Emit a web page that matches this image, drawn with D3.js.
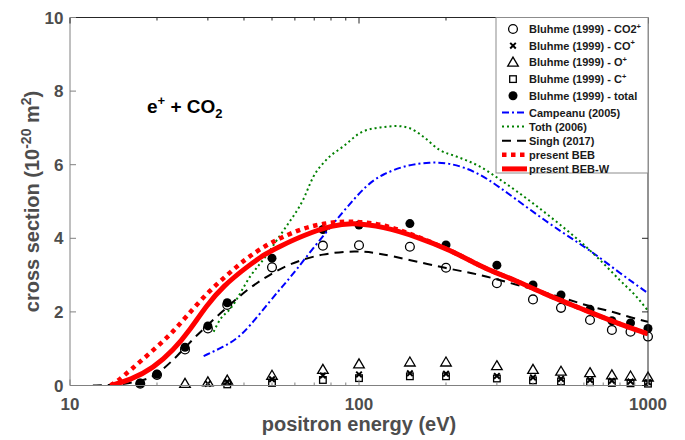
<!DOCTYPE html>
<html>
<head>
<meta charset="utf-8">
<script src="https://cdn.jsdelivr.net/npm/d3@7"></script>
<style>
  body { margin: 0; background: #fff; }
  svg { display: block; font-family: 'Liberation Sans', Arial, Helvetica, sans-serif; }
</style>
</head>
<body>
<div id="chart"></div>
<script>
// Bluhme (1999) measurements
const bluhmeEnergy = [17.5, 20, 25, 30, 35, 50, 75, 100, 150, 200, 300, 400, 500, 630, 750, 870, 1000];
const bluhmeCO2 = [0.05, 0.29, 0.98, 1.55, 2.19, 3.21, 3.80, 3.81, 3.77, 3.20, 2.78, 2.34, 2.11, 1.78, 1.51, 1.46, 1.33];
const bluhmeCO = [null, null, null, 0.05, 0.10, 0.17, 0.27, 0.30, 0.33, 0.32, 0.26, 0.22, 0.18, 0.15, 0.13, 0.11, 0.09];
const bluhmeO = [null, null, 0.05, 0.09, 0.14, 0.27, 0.43, 0.58, 0.63, 0.63, 0.53, 0.43, 0.38, 0.34, 0.28, 0.25, 0.22];
const bluhmeC = [null, null, null, null, 0.03, 0.07, 0.15, 0.20, 0.25, 0.25, 0.19, 0.14, 0.11, 0.09, 0.07, 0.06, 0.05];
const bluhmeTotal = [0.06, 0.31, 1.04, 1.62, 2.25, 3.46, 4.24, 4.36, 4.40, 3.82, 3.27, 2.73, 2.46, 2.07, 1.76, 1.70, 1.55];

// theory curves
const campeanuE = [29, 34, 39, 45.5, 53, 57, 71.5, 88, 106, 121, 146, 176, 207, 255, 307, 390, 508, 630, 800, 1000];
const campeanuV = [0.80, 1.05, 1.33, 1.96, 2.60, 2.87, 3.86, 4.72, 5.45, 5.75, 5.99, 6.07, 6.05, 5.81, 5.39, 4.78, 4.14, 3.68, 3.05, 2.51];

const tothE = [31.4, 33, 36, 42, 48, 53, 56, 64, 69.5, 77, 88, 103, 121, 135, 150, 167, 190, 218, 262, 307, 400, 500, 583, 682, 797, 913, 1000];
const tothV = [1.46, 1.78, 2.10, 2.96, 3.55, 4.05, 4.32, 5.04, 5.67, 6.13, 6.49, 6.90, 7.02, 7.05, 6.99, 6.76, 6.40, 6.22, 5.95, 5.60, 4.95, 4.35, 3.91, 3.41, 2.87, 2.41, 2.03];

const singhE = [12, 14, 16, 18.7, 20.5, 23.4, 27.1, 33.1, 40.8, 47.9, 57.6, 75, 98, 115, 150, 201, 262, 345, 484, 630, 737, 850, 1000];
const singhV = [0, 0.01, 0.06, 0.17, 0.37, 0.78, 1.33, 1.96, 2.60, 2.96, 3.32, 3.59, 3.66, 3.61, 3.41, 3.18, 3.02, 2.75, 2.44, 2.14, 2.03, 1.87, 1.73];

const bebE = [13.8, 14.5, 16.2, 18.9, 22.2, 25.3, 29.7, 34.9, 40.8, 47.9, 53.2, 64, 77, 93, 115, 138, 160, 207, 262, 300, 345, 446, 583, 759, 1000];
const bebV = [0, 0.10, 0.42, 0.88, 1.37, 1.88, 2.50, 3.00, 3.46, 3.82, 4.00, 4.28, 4.42, 4.47, 4.41, 4.23, 4.04, 3.68, 3.25, 3.05, 2.87, 2.46, 2.10, 1.73, 1.40];

const bebwE = [13.8, 16.2, 19.4, 22.8, 26, 29.7, 33.9, 40.8, 47.9, 53.2, 64, 81.4, 95.3, 121, 158.8, 207, 262, 300, 345, 446, 583, 759, 1000];
const bebwV = [0, 0.15, 0.47, 0.96, 1.51, 2.18, 2.70, 3.22, 3.60, 3.78, 4.08, 4.36, 4.42, 4.32, 4.04, 3.68, 3.25, 3.05, 2.87, 2.46, 2.10, 1.73, 1.40];

const xTicks = [10, 100, 1000];
const yTicks = [0, 2, 4, 6, 8, 10];

const width = 685;
const height = 440;
const plot = { l: 70, r: 648, t: 17.5, b: 385.5 };

const svg = d3
  .select('#chart')
  .append('svg')
  .attr('width', width)
  .attr('height', height);

const x = d3.scaleLog().domain([10, 1000]).range([plot.l, plot.r]);
const y = d3.scaleLinear().domain([0, 10]).range([plot.b, plot.t]);

svg.append('clipPath').attr('id', 'clip')
  .append('rect')
  .attr('x', plot.l).attr('y', plot.t)
  .attr('width', plot.r - plot.l).attr('height', plot.b - plot.t);

// marker shapes
function drawMarker(g, kind, cx, cy) {
  if (kind === 'openCircle') {
    g.append('circle').attr('cx', cx).attr('cy', cy).attr('r', 4.4)
      .attr('fill', 'none').attr('stroke', '#000').attr('stroke-width', 1.3);
  } else if (kind === 'filledCircle') {
    g.append('circle').attr('cx', cx).attr('cy', cy).attr('r', 4.5).attr('fill', '#000');
  } else if (kind === 'triangle') {
    g.append('path')
      .attr('d', `M${cx},${cy - 5.3}L${cx + 5.3},${cy + 3.7}L${cx - 5.3},${cy + 3.7}Z`)
      .attr('fill', 'none').attr('stroke', '#000').attr('stroke-width', 1.3);
  } else if (kind === 'square') {
    g.append('rect').attr('x', cx - 3.3).attr('y', cy - 3.3).attr('width', 6.6).attr('height', 6.6)
      .attr('fill', 'none').attr('stroke', '#000').attr('stroke-width', 1.3);
  } else if (kind === 'cross') {
    g.append('path')
      .attr('d', `M${cx - 2.8},${cy - 2.8}L${cx + 2.8},${cy + 2.8}M${cx - 2.8},${cy + 2.8}L${cx + 2.8},${cy - 2.8}`)
      .attr('stroke', '#000').attr('stroke-width', 2);
  }
}

const pointSeries = [
  { values: bluhmeCO2, kind: 'openCircle' },
  { values: bluhmeCO, kind: 'cross' },
  { values: bluhmeO, kind: 'triangle' },
  { values: bluhmeC, kind: 'square' },
  { values: bluhmeTotal, kind: 'filledCircle' },
];

const markers = svg.append('g');
pointSeries.forEach((s) => {
  const g = markers.append('g');
  s.values.forEach((v, i) => {
    if (v === null) return;
    drawMarker(g, s.kind, x(bluhmeEnergy[i]), y(v));
  });
});

const lineSeries = [
  { e: campeanuE, v: campeanuV, color: '#0000ff', width: 2, dash: '7,3,2,3', curve: d3.curveBasis },
  { e: tothE, v: tothV, color: '#008000', width: 2, dash: '2,3', curve: d3.curveMonotoneX },
  { e: singhE, v: singhV, color: '#000', width: 2, dash: '9,6', curve: d3.curveBasis },
  { e: bebE, v: bebV, color: '#ff0000', width: 4.5, dash: '4.5,4.5', curve: d3.curveBasis },
  { e: bebwE, v: bebwV, color: '#ff0000', width: 5, dash: null, curve: d3.curveBasis },
];

const lines = svg.append('g').attr('clip-path', 'url(#clip)');
lineSeries.forEach((s) => {
  const line = d3.line()
    .x((d) => x(d[0]))
    .y((d) => y(d[1]))
    .curve(s.curve);
  lines.append('path')
    .attr('d', line(s.e.map((e, i) => [e, s.v[i]])))
    .attr('fill', 'none')
    .attr('stroke', s.color)
    .attr('stroke-width', s.width)
    .attr('stroke-dasharray', s.dash);
});

// axes box and ticks
const axisG = svg.append('g');
const gray = '#808080';
const dark = '#262626';
axisG.append('line').attr('x1', plot.l).attr('x2', plot.l).attr('y1', plot.t).attr('y2', plot.b).attr('stroke', gray);
axisG.append('line').attr('x1', plot.l).attr('x2', plot.r).attr('y1', plot.b).attr('y2', plot.b).attr('stroke', gray);
axisG.append('line').attr('x1', plot.l).attr('x2', plot.r).attr('y1', plot.t).attr('y2', plot.t).attr('stroke', dark);
axisG.append('line').attr('x1', plot.r).attr('x2', plot.r).attr('y1', plot.t).attr('y2', plot.b).attr('stroke', dark);

const minorX = [];
[10, 100].forEach((d) => { for (let k = 2; k <= 9; k += 1) minorX.push(d * k); });

minorX.forEach((t) => {
  axisG.append('line').attr('x1', x(t)).attr('x2', x(t)).attr('y1', plot.b).attr('y2', plot.b - 3).attr('stroke', gray);
  axisG.append('line').attr('x1', x(t)).attr('x2', x(t)).attr('y1', plot.t).attr('y2', plot.t + 3).attr('stroke', dark);
});
xTicks.forEach((t) => {
  axisG.append('line').attr('x1', x(t)).attr('x2', x(t)).attr('y1', plot.b).attr('y2', plot.b - 6).attr('stroke', gray);
  axisG.append('line').attr('x1', x(t)).attr('x2', x(t)).attr('y1', plot.t).attr('y2', plot.t + 6).attr('stroke', dark);
  axisG.append('text')
    .attr('x', x(t)).attr('y', 409.5)
    .attr('text-anchor', 'middle')
    .attr('font-size', 17).attr('font-weight', 'bold').attr('fill', '#4d4d4d')
    .text(t);
});
yTicks.forEach((t) => {
  axisG.append('line').attr('x1', plot.l).attr('x2', plot.l + 6).attr('y1', y(t)).attr('y2', y(t)).attr('stroke', gray);
  axisG.append('line').attr('x1', plot.r).attr('x2', plot.r - 6).attr('y1', y(t)).attr('y2', y(t)).attr('stroke', dark);
  axisG.append('text')
    .attr('x', 63.5).attr('y', y(t) + 6)
    .attr('text-anchor', 'end')
    .attr('font-size', 17).attr('font-weight', 'bold').attr('fill', '#4d4d4d')
    .text(t);
});

// axis titles
svg.append('text')
  .attr('x', (plot.l + plot.r) / 2).attr('y', 431)
  .attr('text-anchor', 'middle')
  .attr('font-size', 20).attr('font-weight', 'bold').attr('fill', '#4d4d4d')
  .text('positron energy (eV)');

const yTitle = svg.append('text')
  .attr('transform', `translate(39,${(plot.t + plot.b) / 2}) rotate(-90)`)
  .attr('text-anchor', 'middle')
  .attr('font-size', 20).attr('font-weight', 'bold').attr('fill', '#4d4d4d');
yTitle.append('tspan').text('cross section (10');
yTitle.append('tspan').attr('font-size', 14).attr('dy', -8).text('-20');
yTitle.append('tspan').attr('dy', 8).text(' m');
yTitle.append('tspan').attr('font-size', 14).attr('dy', -8).text('2');
yTitle.append('tspan').attr('dy', 8).text(')');

// annotation
const note = svg.append('text')
  .attr('x', 147).attr('y', 113)
  .attr('font-size', 19).attr('font-weight', 'bold').attr('fill', '#000');
note.append('tspan').text('e');
note.append('tspan').attr('font-size', 13).attr('dy', -8).text('+');
note.append('tspan').attr('dy', 8).text(' + CO');
note.append('tspan').attr('font-size', 13).attr('dy', 5).text('2');

// legend
const legendItems = [
  { label: 'Bluhme (1999) - CO2', sup: '+', kind: 'openCircle' },
  { label: 'Bluhme (1999) - CO', sup: '+', kind: 'cross' },
  { label: 'Bluhme (1999) - O', sup: '+', kind: 'triangle' },
  { label: 'Bluhme (1999) - C', sup: '+', kind: 'square' },
  { label: 'Bluhme (1999) - total', sup: null, kind: 'filledCircle' },
  { label: 'Campeanu (2005)', line: lineSeries[0] },
  { label: 'Toth (2006)', line: lineSeries[1] },
  { label: 'Singh (2017)', line: lineSeries[2] },
  { label: 'present BEB', line: lineSeries[3] },
  { label: 'present BEB-W', line: lineSeries[4] },
];

const legend = svg.append('g');
legend.append('rect')
  .attr('x', 496).attr('y', plot.t)
  .attr('width', plot.r - 496).attr('height', 173 - plot.t)
  .attr('fill', '#fff').attr('stroke', '#8c8c8c').attr('stroke-width', 1);

let rowY = 29;
legendItems.forEach((item) => {
  if (item.kind) {
    drawMarker(legend, item.kind, 513, rowY);
  } else {
    legend.append('line')
      .attr('x1', 502).attr('x2', 527).attr('y1', rowY).attr('y2', rowY)
      .attr('stroke', item.line.color)
      .attr('stroke-width', item.line.width)
      .attr('stroke-dasharray', item.line.dash);
  }
  const t = legend.append('text')
    .attr('x', 529).attr('y', rowY + 4)
    .attr('font-size', 11).attr('font-weight', 'bold').attr('fill', '#1a1a1a');
  t.append('tspan').text(item.label);
  if (item.sup) t.append('tspan').attr('font-size', 7.5).attr('dy', -4.5).text(item.sup);
  rowY += item.kind ? 16.7 : 14.1;
});
</script>
</body>
</html>
